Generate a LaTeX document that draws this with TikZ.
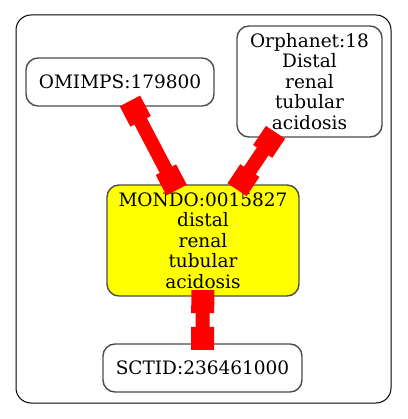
\documentclass[tikz,border=0pt]{standalone}
\usepackage{fontspec}
\setmainfont{DejaVu Serif}
\usetikzlibrary{arrows.meta}
\definecolor{focusyellow}{RGB}{255,255,0}
\definecolor{edgered}{RGB}{255,0,0}
\tikzset{
  termbox/.style={draw=black!70, line width=1.4pt, rounded corners=12pt, inner sep=0pt,
    align=center, font=\fontsize{18.5}{20.5}\selectfont},
  focusbox/.style={termbox, fill=focusyellow},
  linkedge/.style={draw=edgered, line width=14pt,
    {Square[length=23pt,width=23pt]}-{Square[length=23pt,width=23pt]},
    shorten <=-6.5pt, shorten >=-6.5pt},
  clusterbox/.style={draw=black, line width=1pt, rounded corners=15pt}
}
\begin{document}
\begin{tikzpicture}[x=1pt,y=-1pt]
\useasboundingbox (0,0) rectangle (407,419);
\draw[clusterbox] (16,15) rectangle (391,403);
\node[termbox, minimum width=188pt, minimum height=48pt] (omim) at (120,82) {OMIMPS:179800};
\node[termbox, minimum width=145pt, minimum height=111pt] (orpha) at (309.5,81.5) {Orphanet:18\\Distal\\renal\\tubular\\acidosis};
\node[focusbox, minimum width=192pt, minimum height=111pt] (mondo) at (203,240.5) {MONDO:0015827\\distal\\renal\\tubular\\acidosis};
\node[termbox, minimum width=199pt, minimum height=48pt] (sctid) at (202.5,368) {SCTID:236461000};
\draw[linkedge] (omim) -- (mondo);
\draw[linkedge] (orpha) -- (mondo);
\draw[linkedge] (mondo) -- (sctid);
\end{tikzpicture}
\end{document}
